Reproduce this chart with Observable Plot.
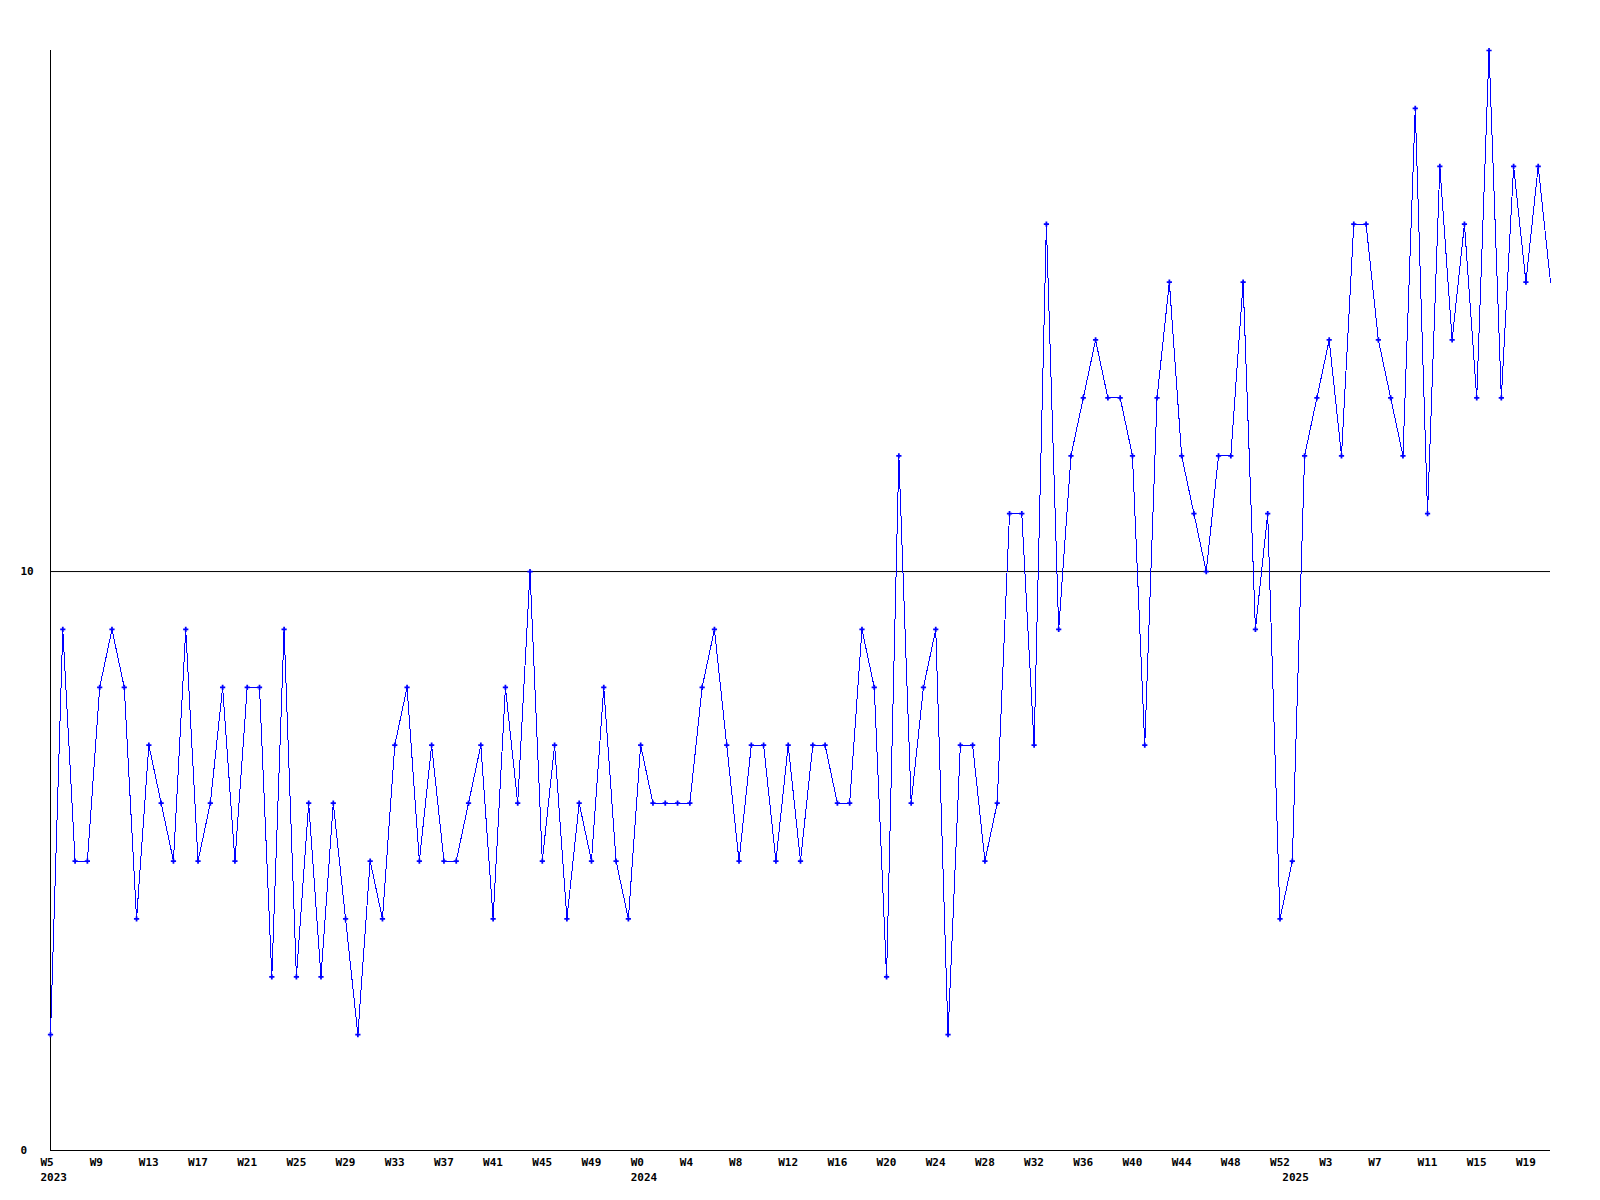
<!DOCTYPE html>
<html>
<head>
<meta charset="utf-8">
<script src="https://cdn.jsdelivr.net/npm/d3@7"></script>
<script src="https://cdn.jsdelivr.net/npm/@observablehq/plot@0.6"></script>
<style>
  html, body { margin: 0; padding: 0; background: #ffffff; }
  #chart svg { display: block; }
</style>
</head>
<body>
<div id="chart"></div>
<script>
// Weekly values, 2023 W5 through 2025 W21 (one per week)
const values = [
  2, 9, 5, 5, 8, 9, 8, 4, 7, 6,
  5, 9, 5, 6, 8, 5, 8, 8, 3, 9,
  3, 6, 3, 6, 4, 2, 5, 4, 7, 8,
  5, 7, 5, 5, 6, 7, 4, 8, 6, 10,
  5, 7, 4, 6, 5, 8, 5, 4, 7, 6,
  6, 6, 6, 8, 9, 7, 5, 7, 7, 5,
  7, 5, 7, 7, 6, 6, 9, 8, 3, 12,
  6, 8, 9, 2, 7, 7, 5, 6, 11, 11,
  7, 16, 9, 12, 13, 14, 13, 13, 12, 7,
  13, 15, 12, 11, 10, 12, 12, 15, 9, 11,
  4, 5, 12, 13, 14, 12, 16, 16, 14, 13,
  12, 18, 11, 17, 14, 16, 13, 19, 13, 17,
  15, 17, 15
];

// Week tick labels (every 4th week) and their week positions
const weekTickIndex  = [0, 4, 8, 12, 16, 20, 24, 28, 32, 36, 40, 44,
                        48, 52, 56, 60, 64, 68, 72, 76, 80, 84, 88, 92, 96, 100,
                        104, 108, 112, 116, 120];
const weekTickLabels = ["W5", "W9", "W13", "W17", "W21", "W25", "W29", "W33", "W37", "W41", "W45", "W49",
                        "W0", "W4", "W8", "W12", "W16", "W20", "W24", "W28", "W32", "W36", "W40", "W44", "W48", "W52",
                        "W3", "W7", "W11", "W15", "W19"];

// Year labels at the first week of each year
const yearTickIndex = [0, 48, 101];
const yearLabels    = ["2023", "2024", "2025"];

// Y ticks
const yTicks = [0, 10];

const weekMap = new Map(weekTickIndex.map((w, i) => [w, weekTickLabels[i]]));
const yearMap = new Map(yearTickIndex.map((w, i) => [w, yearLabels[i]]));
const data = values.map((v, i) => ({week: i, value: v}));

const chart = Plot.plot({
  width: 1600,
  height: 1200,
  marginLeft: 50,
  marginRight: 50,
  marginTop: 50,
  marginBottom: 50,
  style: {
    fontFamily: "'DejaVu Sans Mono', monospace",
    fontSize: "11px",
    fontWeight: "bold",
    background: "#ffffff",
    color: "#000000"
  },
  x: {type: "linear", domain: [0, values.length - 1]},
  y: {domain: [0, 19]},
  marks: [
    Plot.ruleY([10], {stroke: "#000000", strokeWidth: 1}),
    Plot.ruleY([0], {stroke: "#000000", strokeWidth: 1}),
    Plot.ruleX([0], {stroke: "#000000", strokeWidth: 1}),
    Plot.line(data, {x: "week", y: "value", stroke: "#0000ff", strokeWidth: 1, shapeRendering: "crispEdges"}),
    Plot.dot(data, {
      x: "week", y: "value", symbol: "cross", r: 2.2, fill: "#0000ff", stroke: "none",
      filter: (d, i) => i < values.length - 1
    }),
    Plot.axisY(yTicks, {
      tickSize: 0, tickPadding: 30, textAnchor: "start", fill: "#000000",
      tickFormat: d => String(d), label: null
    }),
    Plot.axisX(weekTickIndex, {
      tickSize: 0, tickPadding: 8, textAnchor: "start", dx: -10, fill: "#000000",
      tickFormat: d => weekMap.get(d), label: null
    }),
    Plot.axisX(yearTickIndex, {
      tickSize: 0, tickPadding: 23, textAnchor: "start", dx: -10, fill: "#000000",
      tickFormat: d => yearMap.get(d), label: null
    })
  ]
});
document.getElementById("chart").appendChild(chart);
</script>
</body>
</html>
